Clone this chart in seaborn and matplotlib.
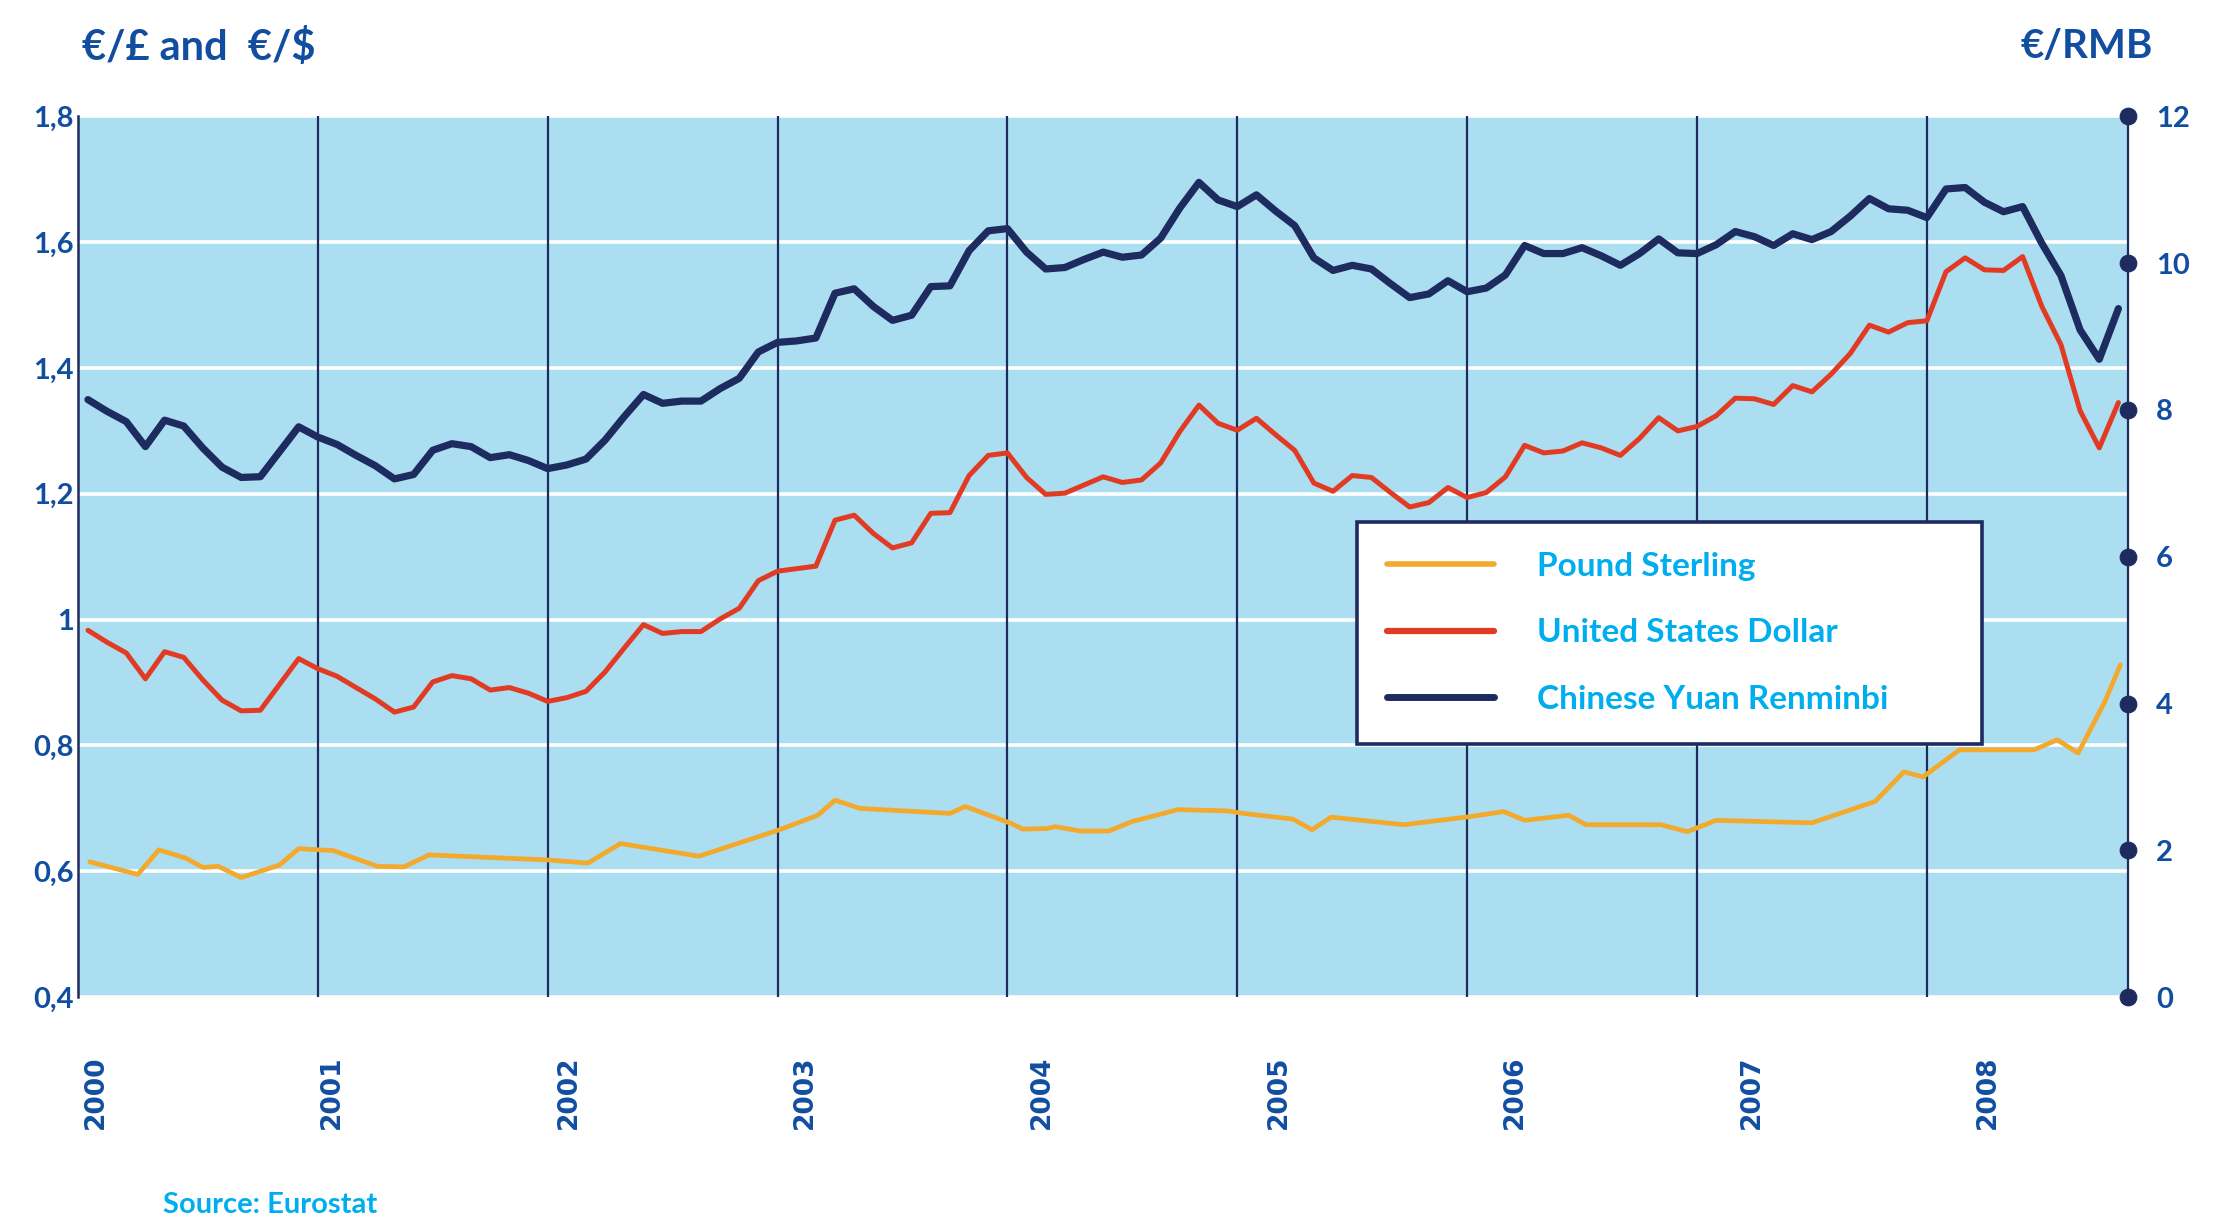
import numpy as np
import pandas as pd
import matplotlib
matplotlib.use("Agg")
import matplotlib.pyplot as plt
import seaborn as sns
from matplotlib.lines import Line2D

# Monthly averages, Feb 2000 - Dec 2008 (one value per month)
usd_rate = [
    0.983, 0.964, 0.947, 0.906, 0.949, 0.940, 0.904, 0.872, 0.855, 0.856, 0.897,
    0.938, 0.922, 0.910, 0.892, 0.874, 0.853, 0.861, 0.901, 0.911, 0.906, 0.888, 0.892,
    0.883, 0.870, 0.876, 0.886, 0.917, 0.955, 0.992, 0.978, 0.981, 0.981, 1.001, 1.018,
    1.062, 1.077, 1.081, 1.085, 1.158, 1.166, 1.137, 1.114, 1.122, 1.169, 1.170, 1.229,
    1.261, 1.265, 1.226, 1.199, 1.201, 1.214, 1.227, 1.218, 1.222, 1.249, 1.299, 1.341,
    1.312, 1.301, 1.320, 1.294, 1.269, 1.217, 1.204, 1.229, 1.226, 1.202, 1.179, 1.186,
    1.210, 1.194, 1.202, 1.227, 1.277, 1.265, 1.268, 1.281, 1.273, 1.261, 1.288, 1.321,
    1.300, 1.307, 1.324, 1.352, 1.351, 1.342, 1.372, 1.362, 1.390, 1.423, 1.468, 1.457,
    1.472, 1.475, 1.553, 1.575, 1.556, 1.555, 1.577, 1.498, 1.437, 1.332, 1.273, 1.345,
]
rmb_rate = [
    8.14, 7.98, 7.84, 7.50, 7.86, 7.78, 7.48, 7.22, 7.08, 7.09, 7.43,
    7.77, 7.63, 7.53, 7.38, 7.24, 7.06, 7.12, 7.45, 7.54, 7.50, 7.35, 7.39,
    7.31, 7.20, 7.25, 7.33, 7.59, 7.91, 8.21, 8.09, 8.12, 8.12, 8.29, 8.43,
    8.79, 8.92, 8.94, 8.98, 9.59, 9.65, 9.41, 9.22, 9.29, 9.68, 9.69, 10.17,
    10.44, 10.47, 10.15, 9.92, 9.94, 10.05, 10.15, 10.08, 10.11, 10.34, 10.75, 11.10,
    10.86, 10.77, 10.93, 10.71, 10.51, 10.07, 9.90, 9.97, 9.92, 9.72, 9.53, 9.58,
    9.76, 9.61, 9.66, 9.84, 10.24, 10.13, 10.13, 10.21, 10.10, 9.97, 10.13, 10.33,
    10.14, 10.13, 10.25, 10.43, 10.36, 10.24, 10.40, 10.32, 10.43, 10.64, 10.88, 10.74,
    10.72, 10.62, 11.01, 11.03, 10.83, 10.70, 10.77, 10.27, 9.83, 9.09, 8.69, 9.38,
]
# the sterling line is drawn through its turning points (month index, rate)
gbp_month = [0.1, 2.6, 3.7, 5.1, 6.0, 6.8, 8.0, 10.0, 11.0, 12.1, 12.8, 15.1, 16.5,
             17.8, 24.0, 26.1, 27.8, 31.9, 36.1, 38.1, 39.0, 40.3, 42.6, 45.0, 45.8,
             48.2, 48.8, 50.1, 50.5, 51.8, 53.3, 54.5, 56.9, 59.5, 60.3, 62.9, 63.9,
             64.9, 68.7, 72.2, 73.9, 75.0, 77.3, 78.2, 82.1, 83.5, 85.0, 90.0, 93.3,
             94.8, 95.8, 97.7, 101.6, 102.8, 103.9, 105.3, 106.1]
gbp_rate = [0.615, 0.595, 0.634, 0.621, 0.606, 0.608, 0.590, 0.610, 0.636, 0.634, 0.633,
            0.608, 0.607, 0.626, 0.618, 0.613, 0.644, 0.624, 0.666, 0.689, 0.713, 0.700,
            0.696, 0.692, 0.703, 0.676, 0.667, 0.668, 0.671, 0.664, 0.664, 0.679, 0.698,
            0.696, 0.692, 0.683, 0.666, 0.686, 0.674, 0.687, 0.695, 0.681, 0.689, 0.674,
            0.674, 0.663, 0.681, 0.677, 0.711, 0.758, 0.750, 0.793, 0.793, 0.809, 0.788,
            0.870, 0.928]

year_labels = [str(y) for y in range(2000, 2009)]
left_ticks = [0.4, 0.6, 0.8, 1.0, 1.2, 1.4, 1.6, 1.8]
left_labels = ["0,4", "0,6", "0,8", "1", "1,2", "1,4", "1,6", "1,8"]
right_ticks = [0, 2, 4, 6, 8, 10, 12]
series_names = ["Pound Sterling", "United States Dollar", "Chinese Yuan Renminbi"]

NAVY = "#1d2b5f"
RED = "#e23b24"
ORANGE = "#f2a92c"
BLUE = "#124ea0"
LIGHT = "#00aeef"
BG = "#acdef2"

months = np.arange(len(usd_rate))
df = pd.DataFrame({"month": months, "usd": usd_rate, "rmb": rmb_rate})
gbp = pd.DataFrame({"month": gbp_month, "gbp": gbp_rate})

sns.set_style("white")
plt.rcParams["font.family"] = ["Lato", "DejaVu Sans"]
plt.rcParams["font.weight"] = "bold"

fig = plt.figure(figsize=(22.24, 12.26), dpi=100)
ax = fig.add_axes([0.03507, 0.1867, 0.92176, 0.71843])
ax.set_facecolor(BG)

# year separators
for k in range(1, 9):
    ax.axvline(12 * k, color=NAVY, lw=1.6, zorder=1.6)

sns.lineplot(data=gbp, x="month", y="gbp", ax=ax, color=ORANGE, lw=3.4, zorder=3)
sns.lineplot(data=df, x="month", y="usd", ax=ax, color=RED, lw=3.6, zorder=3)

ax.set_xlim(-0.52, 106.5)
ax.set_ylim(0.4, 1.8)
ax.set_xlabel("")
ax.set_ylabel("")
ax.set_yticks(left_ticks)
ax.set_yticklabels(left_labels)
ax.yaxis.grid(True, color="white", lw=2.6)
ax.xaxis.grid(False)
ax.tick_params(axis="y", length=0, pad=3, labelsize=21, labelcolor=BLUE, right=False)

ax.set_xticks(12.35 * np.arange(len(year_labels)) + 0.4)
ax.set_xticklabels(year_labels, rotation=90, fontfamily="DejaVu Sans",
                   fontweight="bold", fontsize=19, color=BLUE)
ax.tick_params(axis="x", length=0, pad=42)

for s in ["top", "bottom", "right"]:
    ax.spines[s].set_visible(False)
ax.spines["left"].set_color(NAVY)
ax.spines["left"].set_linewidth(1.8)

ax2 = ax.twinx()
sns.lineplot(data=df, x="month", y="rmb", ax=ax2, color=NAVY, lw=5.2, zorder=3)
ax2.set_ylim(0, 12)
ax2.set_xlim(-0.52, 106.5)
ax2.set_ylabel("")
ax2.set_yticks(right_ticks)
ax2.set_yticklabels([str(t) for t in right_ticks])
ax2.tick_params(axis="y", length=0, pad=20, labelsize=21, labelcolor=BLUE)
for t in ax2.yaxis.get_major_ticks():
    t.tick2line.set_marker("o")
    t.tick2line.set_markersize(12)
    t.tick2line.set_markerfacecolor(NAVY)
    t.tick2line.set_markeredgecolor(NAVY)
for s in ["top", "bottom", "left"]:
    ax2.spines[s].set_visible(False)
ax2.spines["right"].set_color(NAVY)
ax2.spines["right"].set_linewidth(1.6)

handles = [Line2D([], [], color=ORANGE, lw=4),
           Line2D([], [], color=RED, lw=4.5),
           Line2D([], [], color=NAVY, lw=5)]
leg = ax2.legend(handles, series_names, loc="upper left",
                 bbox_to_anchor=(0.624, 0.2976, 0.305, 0.2418), mode="expand",
                 borderaxespad=0, frameon=True, fancybox=False, edgecolor=NAVY,
                 facecolor="white", framealpha=1, handlelength=3.2,
                 handletextpad=1.3, borderpad=0.9, labelspacing=1.12,
                 prop={"family": "Lato", "weight": "bold", "size": 24})
leg.get_frame().set_linewidth(2.6)
for txt in leg.get_texts():
    txt.set_color(LIGHT)
leg.set_zorder(10)

fig.text(82 / 2224, 1 - 47 / 1226, "€/£ and  €/$", ha="left", va="center",
         fontsize=30, fontweight="bold", color=BLUE)
fig.text(2153 / 2224, 1 - 47 / 1226, "€/RMB", ha="right", va="center",
         fontsize=29, fontweight="bold", color=BLUE)
fig.text(163 / 2224, 1 - 1205 / 1226, "Source: Eurostat", ha="left", va="center",
         fontsize=21, fontweight="bold", color=LIGHT)

fig.savefig("out.png", dpi=100, facecolor="white")
